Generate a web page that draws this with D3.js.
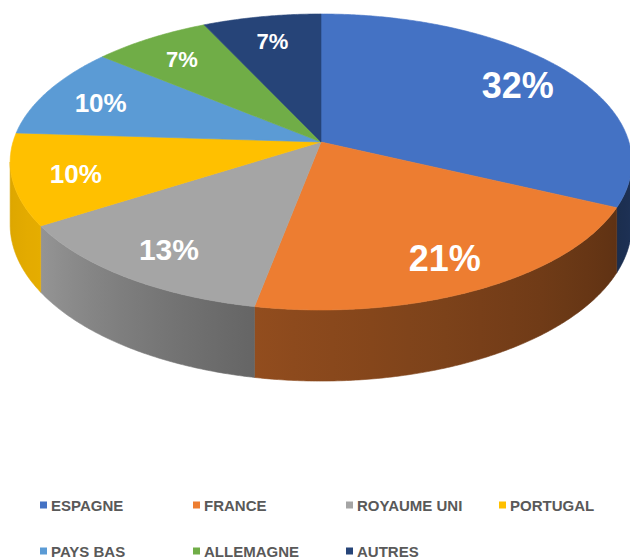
<!DOCTYPE html>
<html>
<head>
<meta charset="utf-8">
<script src="https://cdn.jsdelivr.net/npm/d3@7"></script>
<style>
  body { margin: 0; background: #fff; }
  svg { display: block; font-family: "Liberation Sans", Arial, sans-serif; }
</style>
</head>
<body>
<svg id="chart" width="630" height="560"></svg>
<script>
// chart data
const categories = ['ESPAGNE', 'FRANCE', 'ROYAUME UNI', 'PORTUGAL', 'PAYS BAS', 'ALLEMAGNE', 'AUTRES'];
const values = [32, 21, 13, 10, 10, 7, 7];
const palette = ['#4472C4', '#ED7D31', '#A5A5A5', '#FFC000', '#5B9BD5', '#70AD47', '#264478'];

// projection of the tilted disc (simple perspective)
const cx = 321, cy = 142, rx = 308, ry = 145.3, persp = 0.135, depth = 61.5;
const rad = Math.PI / 180;

function proj(ang, r, z) {
  var u = r * Math.sin(ang), v = r * Math.cos(ang), w = 1 + persp * v;
  return [cx + rx * u / w, cy - ry * v / w + z * depth / w];
}

var svg = d3.select('#chart');
var defs = svg.append('defs');
var color = d3.scaleOrdinal().domain(categories).range(palette);
var shade = d3.scaleLinear().domain([98, 115, 190, 237, 262]).range([0.45, 0.40, 0.61, 0.9, 0.86]).clamp(true);
var labelSize = d3.scaleLinear().domain([7, 13, 21]).range([22, 30, 36]).clamp(true);

var pie = d3.pie().sort(null).value(function(d) { return d; });
var arcs = pie(values);
var line = d3.line();

function arcPoints(a0, a1, r, z) {
  var pts = [], n = Math.max(2, Math.ceil((a1 - a0) / (0.5 * rad)));
  for (var i = 0; i <= n; i++) pts.push(proj(a0 + (a1 - a0) * i / n, r, z));
  return pts;
}

function darken(c, f) {
  var col = d3.rgb(c);
  return d3.rgb(col.r * f, col.g * f, col.b * f).formatHex();
}

// visible part of the outer wall
var visLo = Math.acos(-persp), visHi = 2 * Math.PI - Math.acos(-persp);

var walls = svg.append('g');
arcs.forEach(function(d, i) {
  var s0 = Math.max(d.startAngle, visLo), s1 = Math.min(d.endAngle, visHi);
  if (s0 >= s1) return;
  var top = arcPoints(s0, s1, 1, 0);
  var bottom = arcPoints(s0, s1, 1, 1).reverse();
  var base = color(categories[i]);
  var xA = proj(s1, 1, 0)[0], xB = proj(s0, 1, 0)[0];
  var grad = defs.append('linearGradient')
    .attr('id', 'wall' + i)
    .attr('gradientUnits', 'userSpaceOnUse')
    .attr('x1', xA).attr('x2', xB).attr('y1', 0).attr('y2', 0);
  var stops = [];
  for (var j = 0; j <= 12; j++) {
    var ang = s1 - (s1 - s0) * j / 12;
    var x = proj(ang, 1, 0)[0];
    stops.push({ off: (x - xA) / (xB - xA), col: darken(base, shade(ang / rad)) });
  }
  grad.selectAll('stop').data(stops).enter().append('stop')
    .attr('offset', function(s) { return s.off; })
    .attr('stop-color', function(s) { return s.col; });
  walls.append('path')
    .attr('d', line(top.concat(bottom)) + 'Z')
    .attr('fill', 'url(#wall' + i + ')')
    .attr('stroke', 'url(#wall' + i + ')')
    .attr('stroke-width', 0.6);
});

// top face
var tops = svg.append('g');
tops.selectAll('path')
  .data(arcs)
  .enter()
  .append('path')
  .attr('d', function(d) {
    return line([[cx, cy]].concat(arcPoints(d.startAngle, d.endAngle, 1, 0))) + 'Z';
  })
  .attr('fill', function(d, i) { return color(categories[i]); })
  .attr('stroke', function(d, i) { return color(categories[i]); })
  .attr('stroke-width', 0.6);

// percentage labels
svg.append('g').selectAll('text')
  .data(arcs)
  .enter()
  .append('text')
  .attr('x', function(d) { return proj((d.startAngle + d.endAngle) / 2, 0.8, 0)[0]; })
  .attr('y', function(d) { return proj((d.startAngle + d.endAngle) / 2, 0.8, 0)[1] + 2; })
  .attr('text-anchor', 'middle')
  .attr('dominant-baseline', 'central')
  .attr('fill', '#fff')
  .attr('font-weight', 'bold')
  .attr('font-size', function(d) { return labelSize(d.value) + 'px'; })
  .text(function(d) { return Math.round(d.value) + '%'; });

// legend
var legend = svg.append('g').selectAll('g')
  .data(categories)
  .enter()
  .append('g')
  .attr('transform', function(d, i) {
    return 'translate(' + (40 + (i % 4) * 153) + ',' + (505 + Math.floor(i / 4) * 46) + ')';
  });
legend.append('rect')
  .attr('x', 0).attr('y', -3.5)
  .attr('width', 7).attr('height', 7)
  .attr('fill', function(d) { return color(d); });
legend.append('text')
  .attr('x', 11)
  .attr('y', 0)
  .attr('dominant-baseline', 'central')
  .attr('fill', '#595959')
  .attr('font-weight', 'bold')
  .attr('font-size', '15px')
  .text(function(d) { return d; });
</script>
</body>
</html>
